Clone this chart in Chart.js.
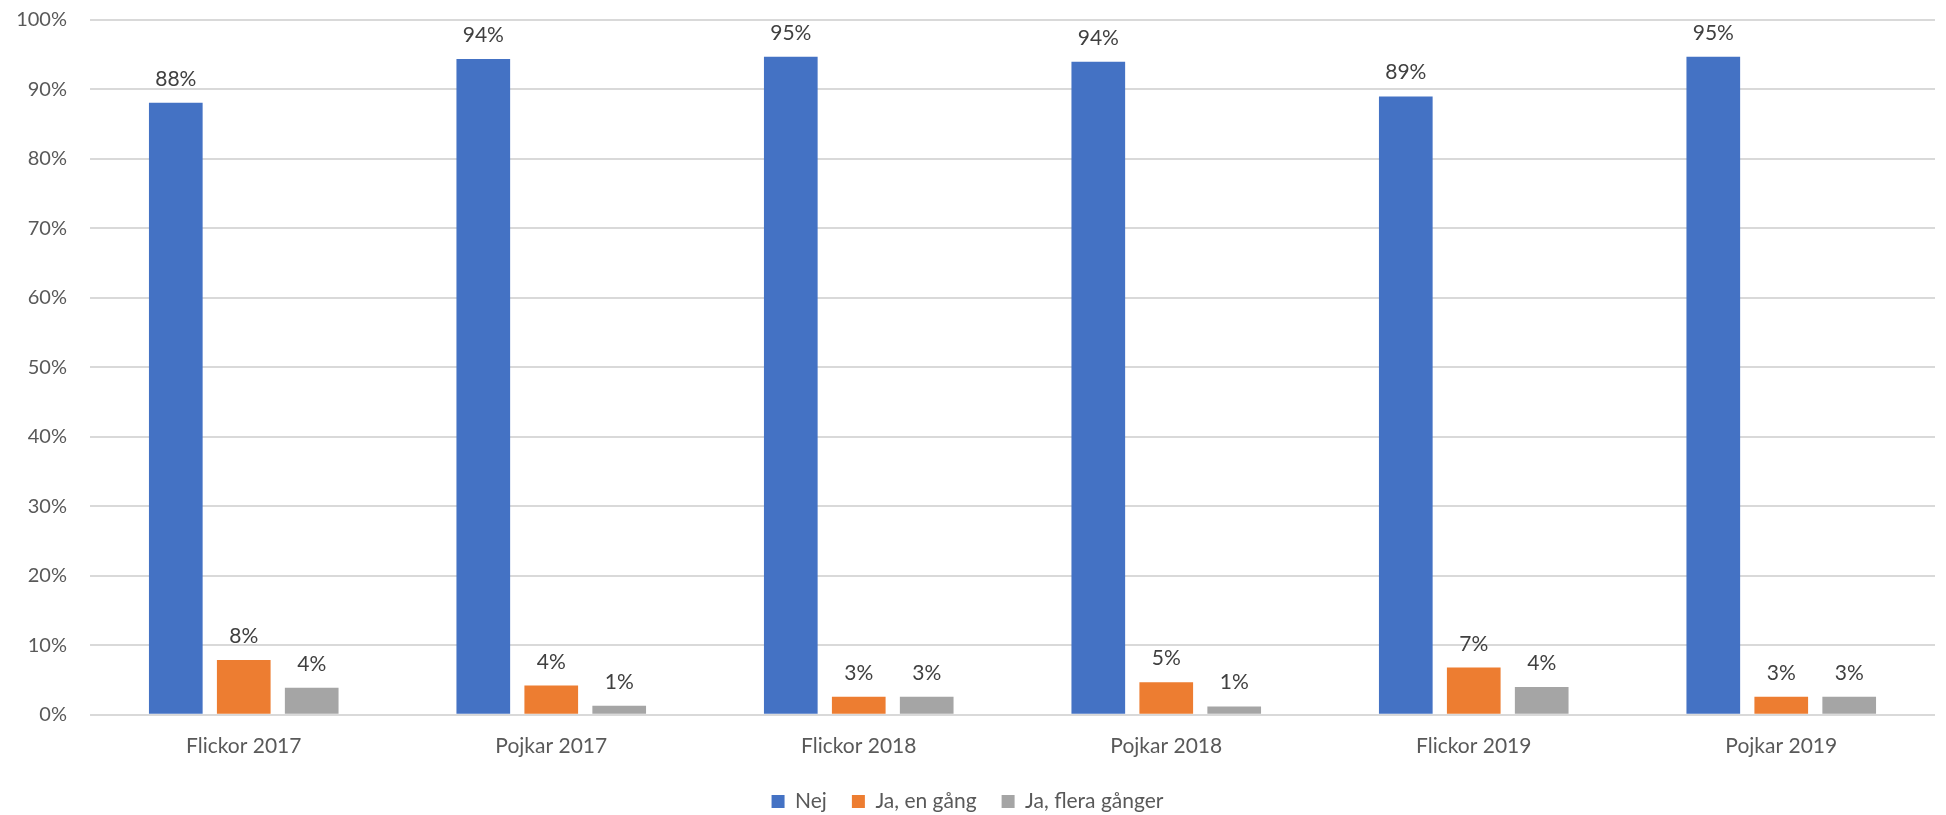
<!DOCTYPE html>
<html>
<head>
<meta charset="utf-8">
<script src="https://cdn.jsdelivr.net/npm/chart.js@4/dist/chart.umd.min.js"></script>
<style>
	body { margin: 0; background: #fff; }
	#caixa { width: 1946px; height: 815px; }
</style>
</head>
<body>
<div id="caixa"><canvas id="chartSvar"></canvas></div>
<script>
var grupper = ['Flickor 2017', 'Pojkar 2017', 'Flickor 2018', 'Pojkar 2018', 'Flickor 2019', 'Pojkar 2019'];
var nej = [88.1, 94.4, 94.7, 94.0, 89.0, 94.7];
var jaEnGang = [7.9, 4.2, 2.6, 4.7, 6.8, 2.6];
var jaFleraGanger = [3.9, 1.3, 2.6, 1.2, 4.0, 2.6];
var yTicks = [0, 10, 20, 30, 40, 50, 60, 70, 80, 90, 100];

var fonte = 'Lato, "Open Sans", sans-serif';

// etiquetas de valor acima de cada barra
var etiquetasValores = {
	id: 'etiquetasValores',
	afterDatasetsDraw: function(chart) {
		var ctx = chart.ctx;
		ctx.save();
		ctx.font = '21px ' + fonte;
		ctx.fillStyle = '#404040';
		ctx.textAlign = 'center';
		ctx.textBaseline = 'alphabetic';
		chart.data.datasets.forEach(function(ds, i) {
			chart.getDatasetMeta(i).data.forEach(function(barra, j) {
				ctx.fillText(Math.round(ds.data[j]) + '%', barra.x, barra.y - 17);
			});
		});
		ctx.restore();
	}
};

// sobe a legenda um pouco (o padding vertical dela fica grande demais)
var ajusteLegenda = {
	id: 'ajusteLegenda',
	afterLayout: function(chart) {
		chart.legend.top -= 12;
		chart.legend.bottom -= 12;
	}
};

function serie(label, cor, dados) {
	return {
		label: label,
		backgroundColor: cor,
		data: dados,
		categoryPercentage: 0.663,
		barPercentage: 0.79
	};
}

var grafico = new Chart(document.getElementById('chartSvar'), {
	type: 'bar',
	data: {
		labels: grupper,
		datasets: [
			serie('Nej', '#4472c4', nej),
			serie('Ja, en gång', '#ed7d31', jaEnGang),
			serie('Ja, flera gånger', '#a5a5a5', jaFleraGanger)
		]
	},
	plugins: [etiquetasValores, ajusteLegenda],
	options: {
		responsive: true,
		maintainAspectRatio: false,
		animation: false,
		layout: { padding: { top: 0, right: 11, bottom: -19, left: 0 } },
		plugins: {
			tooltip: { enabled: false },
			legend: {
				position: 'bottom',
				labels: {
					boxWidth: 13,
					boxHeight: 13,
					padding: 25,
					color: '#595959',
					font: { family: fonte, size: 21 }
				}
			}
		},
		scales: {
			x: {
				grid: { display: false, drawTicks: false },
				border: { display: false },
				ticks: {
					padding: 19,
					color: '#595959',
					font: { family: fonte, size: 21 }
				}
			},
			y: {
				min: 0,
				max: 100,
				afterBuildTicks: function(scale) {
					scale.ticks = yTicks.map(function(v) { return { value: v }; });
				},
				afterFit: function(scale) {
					scale.width = 90;
					scale.paddingTop = 20;
				},
				grid: { color: '#d9d9d9', lineWidth: 2, drawTicks: false },
				border: { display: false },
				ticks: {
					padding: 23,
					color: '#595959',
					font: { family: fonte, size: 20 },
					callback: function(v) { return v + '%'; }
				}
			}
		}
	}
});
</script>
</body>
</html>
